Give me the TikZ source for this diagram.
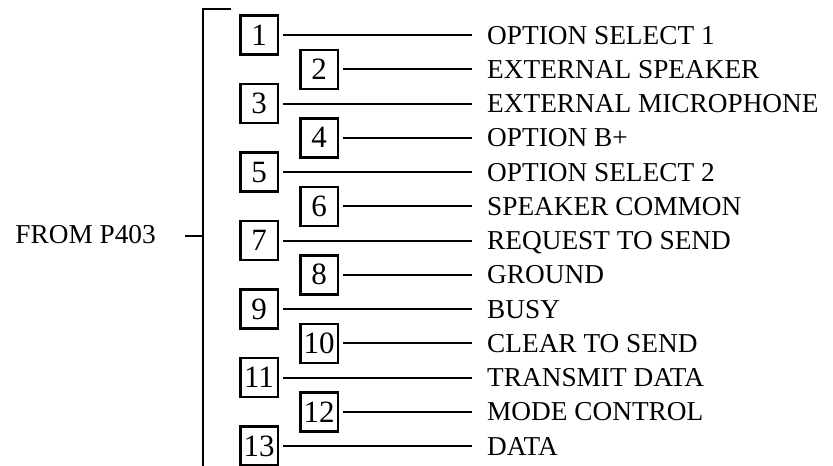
\documentclass[tikz,border=0pt]{standalone}
\usepackage{fontspec}
\setmainfont{Liberation Serif}
\begin{document}
\begin{tikzpicture}[x=1pt,y=-1pt,line join=miter,line cap=butt,
			declare function={xO = 259; xE = 319; xL = 487; xB = 203; yT = 35; dY = 34.25;},
			pinbox/.style={draw,line width=2.5pt,minimum width=37.5pt,minimum height=39pt,inner sep=0pt,
				font=\fontsize{31}{31}\selectfont},
			siglabel/.style={anchor=west,inner sep=0pt,text height=18pt,text depth=0pt,
				font=\fontsize{27.3}{27.3}\selectfont},
			wire/.style={line width=2pt,shorten <=4pt,shorten >=15pt}]
			\useasboundingbox (0,0) rectangle (833,466);
			%%Khung (bracket)
			\coordinate (btop) at (xB,9);
			\coordinate (bhook) at (231,9);
			\coordinate (bbot) at (xB,466);
			\coordinate (bmid) at (xB,236);
			\coordinate (btick) at (185,236);
			\draw[line width=1.8pt] (bhook) -- (btop) -- (bbot);
			\draw[line width=1.8pt] (btick) -- (bmid);
			\node[anchor=east,inner sep=0pt,text height=18pt,text depth=0pt,font=\fontsize{27.3}{27.3}\selectfont] (src) at (156,234) {FROM P403};
			%%Chân (pins)
			\node[pinbox] (pin1) at (xO,yT) {1};
			\node[pinbox] (pin2) at (xE,yT+dY) {2};
			\node[pinbox] (pin3) at (xO,yT+2*dY) {3};
			\node[pinbox] (pin4) at (xE,yT+3*dY) {4};
			\node[pinbox] (pin5) at (xO,yT+4*dY) {5};
			\node[pinbox] (pin6) at (xE,yT+5*dY) {6};
			\node[pinbox] (pin7) at (xO,yT+6*dY) {7};
			\node[pinbox] (pin8) at (xE,yT+7*dY) {8};
			\node[pinbox] (pin9) at (xO,yT+8*dY) {9};
			\node[pinbox] (pin10) at (xE,yT+9*dY) {10};
			\node[pinbox] (pin11) at (xO,yT+10*dY) {11};
			\node[pinbox] (pin12) at (xE,yT+11*dY) {12};
			\node[pinbox] (pin13) at (xO,yT+12*dY) {13};
			%%Tín hiệu (signals)
			\node[siglabel] (sig1) at (xL,yT) {OPTION SELECT 1};
			\node[siglabel] (sig2) at (xL,yT+dY) {EXTERNAL SPEAKER};
			\node[siglabel] (sig3) at (xL,yT+2*dY) {EXTERNAL MICROPHONE};
			\node[siglabel] (sig4) at (xL,yT+3*dY) {OPTION B+};
			\node[siglabel] (sig5) at (xL,yT+4*dY) {OPTION SELECT 2};
			\node[siglabel] (sig6) at (xL,yT+5*dY) {SPEAKER COMMON};
			\node[siglabel] (sig7) at (xL,yT+6*dY) {REQUEST TO SEND};
			\node[siglabel] (sig8) at (xL,yT+7*dY) {GROUND};
			\node[siglabel] (sig9) at (xL,yT+8*dY) {BUSY};
			\node[siglabel] (sig10) at (xL,yT+9*dY) {CLEAR TO SEND};
			\node[siglabel] (sig11) at (xL,yT+10*dY) {TRANSMIT DATA};
			\node[siglabel] (sig12) at (xL,yT+11*dY) {MODE CONTROL};
			\node[siglabel] (sig13) at (xL,yT+12*dY) {DATA};
			%%Dây nối
			\draw[wire] (pin1) -- (sig1);
			\draw[wire] (pin2) -- (sig2);
			\draw[wire] (pin3) -- (sig3);
			\draw[wire] (pin4) -- (sig4);
			\draw[wire] (pin5) -- (sig5);
			\draw[wire] (pin6) -- (sig6);
			\draw[wire] (pin7) -- (sig7);
			\draw[wire] (pin8) -- (sig8);
			\draw[wire] (pin9) -- (sig9);
			\draw[wire] (pin10) -- (sig10);
			\draw[wire] (pin11) -- (sig11);
			\draw[wire] (pin12) -- (sig12);
			\draw[wire] (pin13) -- (sig13);
		\end{tikzpicture}
\end{document}
